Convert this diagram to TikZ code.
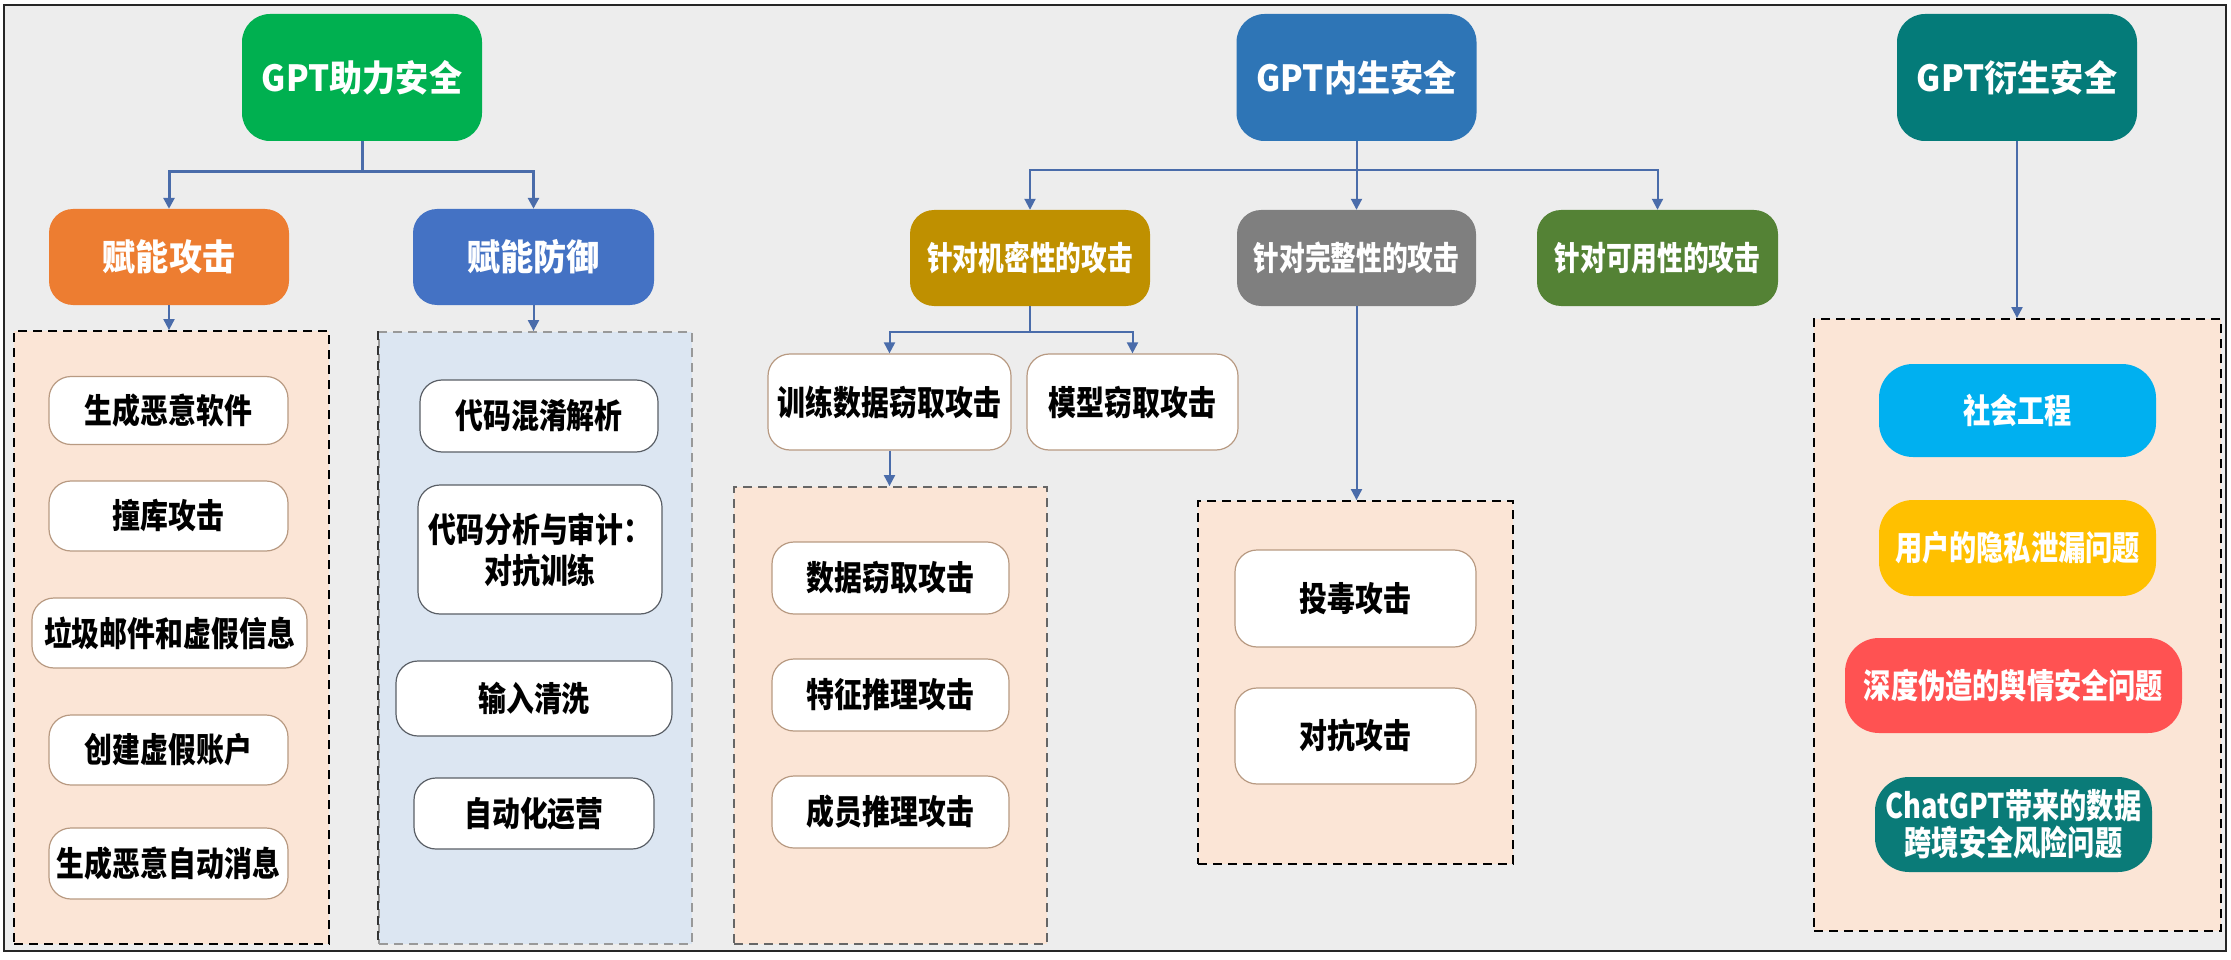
\documentclass[tikz,border=0pt]{standalone}
\usepackage{fontspec}
\setmainfont{Noto Sans CJK SC}
\newfontfamily\fTop{Noto Sans CJK SC}[FakeStretch=0.92]
\newfontfamily\fMid{Noto Sans CJK SC}[FakeStretch=0.78]
\newfontfamily\fItem{Noto Sans CJK SC}[FakeStretch=0.82]
\newfontfamily\fRight{Noto Sans CJK SC}[FakeStretch=0.80]
\usetikzlibrary{arrows.meta}
\definecolor{bgc}{HTML}{EDEDED}
\definecolor{cA0}{HTML}{00B050}
\definecolor{cB0}{HTML}{2E75B6}
\definecolor{cC0}{HTML}{047B79}
\definecolor{cA1}{HTML}{ED7D31}
\definecolor{cB1}{HTML}{4472C4}
\definecolor{cC1}{HTML}{BF9000}
\definecolor{cE1}{HTML}{7F7F7F}
\definecolor{cF1}{HTML}{548235}
\definecolor{peach}{HTML}{FBE5D6}
\definecolor{lblue}{HTML}{DCE6F2}
\definecolor{lineC}{HTML}{4A6CAA}
\definecolor{itemB}{HTML}{B89A82}
\definecolor{itemG}{HTML}{5A5F66}
\definecolor{rBlue}{HTML}{00B0F0}
\definecolor{rYel}{HTML}{FFC000}
\definecolor{rRed}{HTML}{FF5252}
\definecolor{rTeal}{HTML}{0A7B78}
\begin{document}
\begin{tikzpicture}[x=1pt,y=-1pt,
  topbox/.style={rounded corners=28pt, minimum width=240pt, minimum height=127pt, inner sep=0pt, text=white,
    font=\fTop\bfseries\fontsize{36}{40}\selectfont},
  lvlbox/.style={rounded corners=24pt, minimum width=240pt, minimum height=96pt, inner sep=0pt, text=white,
    font=\fTop\bfseries\fontsize{36}{40}\selectfont},
  midbox/.style={rounded corners=24pt, minimum width=240pt, minimum height=96pt, inner sep=0pt, text=white,
    font=\fMid\bfseries\fontsize{33}{40}\selectfont},
  itembox/.style={fill=white, draw=itemB, line width=1.2pt, rounded corners=22pt, inner sep=0pt, text=black, align=center,
    font=\fItem\bfseries\fontsize{34}{41}\selectfont},
  ritem/.style={rounded corners=34pt, inner sep=0pt, text=white, align=center,
    font=\fRight\bfseries\fontsize{34}{37}\selectfont},
  grpline/.style={line width=1.8pt, dash pattern=on 9pt off 6pt},
  group/.style={grpline, inner sep=0pt},
  conn/.style={draw=lineC, line width=2pt, -{Triangle[length=11pt,width=11pt]}},
  connthick/.style={conn, line width=3pt}
]
\useasboundingbox (0,0) rectangle (2231,960);
\fill[white] (0,0) rectangle (2231,960);
\filldraw[fill=bgc, draw=black!85, line width=2pt] (4,5) rectangle (2226,951);

% top level
\node[topbox, fill=cA0] (A0) at (362,77.5) {GPT助力安全};
\node[topbox, fill=cB0] (B0) at (1356.5,77.5) {GPT内生安全};
\node[topbox, fill=cC0] (C0) at (2017,77.5) {GPT衍生安全};

% second level
\node[lvlbox, fill=cA1] (A1) at (169,257) {赋能攻击};
\node[lvlbox, fill=cB1, minimum width=241pt] (B1) at (533.5,257) {赋能防御};
\node[midbox, fill=cC1] (C1) at (1030,258) {针对机密性的攻击};
\node[midbox, fill=cE1, minimum width=239pt] (E1) at (1356.5,258) {针对完整性的攻击};
\node[midbox, fill=cF1, minimum width=241pt] (F1) at (1657.5,258) {针对可用性的攻击};

% group boxes
\node[group, fill=peach, draw=black, minimum width=315pt, minimum height=613pt] (L) at (171.5,637.5) {};
\node[group, fill=lblue, draw=black!40, minimum width=313pt, minimum height=612pt] (M) at (535.5,638) {};
\draw[grpline, black!80] (M.north west) -- (M.south west);
\node[group, fill=peach, draw=black!60, minimum width=313pt, minimum height=457pt] (D) at (890.5,715.5) {};
\node[group, fill=peach, draw=black, minimum width=315pt, minimum height=363pt] (E) at (1355.5,682.5) {};
\node[group, fill=peach, draw=black, minimum width=407pt, minimum height=612pt] (R) at (2017.5,625) {};

% left items
\node[itembox, minimum width=239pt, minimum height=68pt] (l1) at (168.5,410.5) {生成恶意软件};
\node[itembox, minimum width=239pt, minimum height=70pt] (l2) at (168.5,516) {撞库攻击};
\node[itembox, minimum width=275pt, minimum height=70pt] (l3) at (169.5,633) {垃圾邮件和虚假信息};
\node[itembox, minimum width=239pt, minimum height=70pt] (l4) at (168.5,750) {创建虚假账户};
\node[itembox, minimum width=239pt, minimum height=71pt] (l5) at (168.5,863.5) {生成恶意自动消息};

% defence items
\node[itembox, draw=itemG, minimum width=238pt, minimum height=72pt] (m1) at (539,416) {代码混淆解析};
\node[itembox, draw=itemG, minimum width=244pt, minimum height=129pt] (m2) at (540,549.5) {代码分析与审计：\\对抗训练};
\node[itembox, draw=itemG, minimum width=276pt, minimum height=75pt] (m3) at (534,698.5) {输入清洗};
\node[itembox, draw=itemG, minimum width=240pt, minimum height=71pt] (m4) at (534,813.5) {自动化运营};

% confidentiality children
\node[itembox, minimum width=243pt, minimum height=96pt] (t1) at (889.5,402) {训练数据窃取攻击};
\node[itembox, minimum width=211pt, minimum height=96pt] (t2) at (1132.5,402) {模型窃取攻击};
\node[itembox, minimum width=237pt, minimum height=72pt] (d1) at (890.5,578) {数据窃取攻击};
\node[itembox, minimum width=237pt, minimum height=72pt] (d2) at (890.5,695) {特征推理攻击};
\node[itembox, minimum width=237pt, minimum height=72pt] (d3) at (890.5,812) {成员推理攻击};

% integrity items
\node[itembox, minimum width=241pt, minimum height=97pt] (e1) at (1355.5,598.5) {投毒攻击};
\node[itembox, minimum width=241pt, minimum height=96pt] (e2) at (1355.5,736) {对抗攻击};

% derived items
\node[ritem, fill=rBlue, minimum width=277pt, minimum height=93pt] (r1) at (2017.5,410.5) {社会工程};
\node[ritem, fill=rYel, minimum width=277pt, minimum height=96pt] (r2) at (2017.5,548) {用户的隐私泄漏问题};
\node[ritem, fill=rRed, minimum width=337pt, minimum height=95pt] (r3) at (2013.5,685.5) {深度伪造的舆情安全问题};
\node[ritem, fill=rTeal, minimum width=277pt, minimum height=95pt] (r4) at (2013.5,824.5) {ChatGPT带来的数据\\跨境安全风险问题};

% connectors
\draw[connthick] (A0.south) -- ++(0,30) -| (A1.north);
\draw[connthick] (A0.south) -- ++(0,30) -| (B1.north);
\draw[conn] (A1.south) -- (A1.south |- L.north);
\draw[conn] (B1.south) -- (B1.south |- M.north);
\draw[conn] (B0.south) -- ++(0,29) -| (C1.north);
\draw[conn] (B0.south) -- (E1.north);
\draw[conn] (B0.south) -- ++(0,29) -| (F1.north);
\draw[conn] (C1.south) -- ++(0,26) -| (t1.north);
\draw[conn] (C1.south) -- ++(0,26) -| (t2.north);
\draw[conn] (t1.south) -- (t1.south |- D.north);
\draw[conn] (E1.south) -- (E1.south |- E.north);
\draw[conn] (C0.south) -- (C0.south |- R.north);
\end{tikzpicture}
\end{document}
